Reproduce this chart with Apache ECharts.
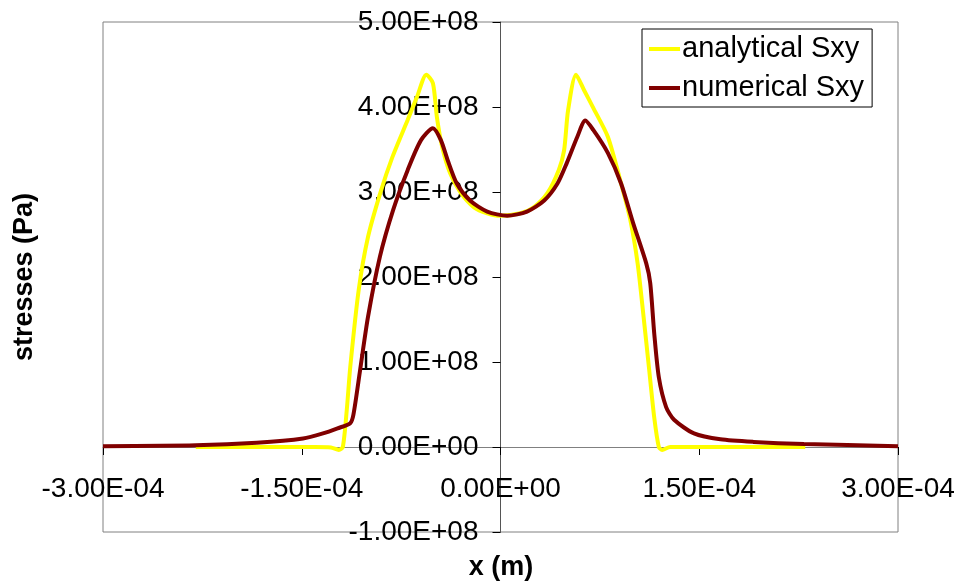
<!DOCTYPE html>
<html>
<head>
<meta charset="utf-8">
<script src="https://cdn.jsdelivr.net/npm/echarts@6/dist/echarts.min.js"></script>
<style>
  html, body { margin: 0; padding: 0; background: #fff; }
  #chart { width: 961px; height: 586px; }
</style>
</head>
<body>
<div id="chart"></div>
<script>
// x (m) / stress (Pa)
const analyticalX = [-2.30e-4, -1.80e-4, -1.40e-4, -1.28e-4, -1.22e-4, -1.19e-4, -1.16e-4, -1.134e-4, -1.07e-4, -1.00e-4,
  -0.907e-4, -0.816e-4, -0.70e-4, -0.63e-4, -0.56e-4, -0.51e-4, -0.48e-4, -0.44e-4, -0.38e-4, -0.30e-4,
  -0.20e-4, -0.10e-4, 0, 0.15e-4, 0.25e-4, 0.355e-4, 0.44e-4, 0.48e-4, 0.51e-4, 0.57e-4,
  0.63e-4, 0.70e-4, 0.81e-4, 0.91e-4, 0.98e-4, 1.035e-4, 1.08e-4, 1.12e-4, 1.16e-4, 1.195e-4,
  1.22e-4, 1.28e-4, 1.60e-4, 2.30e-4]
const analyticalY = [0, 0, 0, -0.005e8, -0.035e8, 0, 0.44e8, 0.94e8, 1.85e8, 2.47e8,
  2.99e8, 3.41e8, 3.85e8, 4.12e8, 4.38e8, 4.28e8, 3.88e8, 3.53e8, 3.22e8, 2.99e8,
  2.82e8, 2.75e8, 2.72e8, 2.75e8, 2.82e8, 2.99e8, 3.26e8, 3.49e8, 3.96e8, 4.38e8,
  4.20e8, 3.99e8, 3.65e8, 3.10e8, 2.67e8, 2.16e8, 1.53e8, 0.94e8, 0.35e8, 0,
  -0.035e8, 0, 0, 0]

const numericalX = [-3.0e-4, -2.3e-4, -1.84e-4, -1.49e-4, -1.34e-4, -1.23e-4, -1.134e-4, -1.11e-4, -1.06e-4, -1.00e-4,
  -0.91e-4, -0.81e-4, -0.70e-4, -0.60e-4, -0.51e-4, -0.45e-4, -0.40e-4, -0.33e-4, -0.23e-4, -0.10e-4,
  0.05e-4, 0.20e-4, 0.33e-4, 0.43e-4, 0.50e-4, 0.58e-4, 0.64e-4, 0.70e-4, 0.81e-4, 0.91e-4,
  1.00e-4, 1.10e-4, 1.13e-4, 1.16e-4, 1.195e-4, 1.25e-4, 1.31e-4, 1.46e-4, 1.66e-4, 1.91e-4,
  2.29e-4, 3.0e-4]
const numericalY = [0.01e8, 0.02e8, 0.05e8, 0.10e8, 0.16e8, 0.22e8, 0.28e8, 0.38e8, 0.90e8, 1.53e8,
  2.24e8, 2.79e8, 3.26e8, 3.61e8, 3.75e8, 3.61e8, 3.38e8, 3.10e8, 2.90e8, 2.77e8,
  2.72e8, 2.77e8, 2.90e8, 3.10e8, 3.34e8, 3.65e8, 3.84e8, 3.73e8, 3.46e8, 3.10e8,
  2.64e8, 2.16e8, 1.93e8, 1.34e8, 0.82e8, 0.47e8, 0.32e8, 0.16e8, 0.09e8, 0.06e8,
  0.035e8, 0.01e8]

const seriesNames = ['analytical Sxy', 'numerical Sxy']

// Excel style 0.00E+00
function sci(v) {
  const s = Number(v).toExponential(2)
  const parts = s.split('e')
  let exp = parseInt(parts[1], 10)
  const sign = exp < 0 ? '-' : '+'
  exp = Math.abs(exp)
  return parts[0] + 'E' + sign + (exp < 10 ? '0' + exp : exp)
}

const font = "'Liberation Sans', Arial, sans-serif"
const chart = echarts.init(document.getElementById('chart'))

// plot box in px, axes cross at x=0 / y=0
const gridL = 103, gridT = 22, gridW = 795, gridH = 510

const option = {
  animation: false,
  grid: {
    left: gridL, top: gridT, width: gridW, height: gridH,
    outerBoundsMode: 'none',
    containLabel: false,
    show: true, borderColor: '#808080', borderWidth: 1
  },
  legend: {
    data: seriesNames,
    orient: 'vertical',
    left: 642, top: 29,
    padding: [5, 8, 4, 7],
    itemGap: 9,
    itemWidth: 31, itemHeight: 4,
    icon: 'rect',
    borderColor: '#000', borderWidth: 1,
    backgroundColor: '#fff',
    textStyle: { fontFamily: font, fontSize: 29, color: '#000', lineHeight: 30, padding: [0, 0, 0, -3] }
  },
  xAxis: {
    type: 'value',
    min: -3e-4, max: 3e-4, interval: 1.5e-4,
    position: 'bottom',
    offset: -gridH * 1 / 6, // move up to y = 0
    axisLine: { onZero: false, lineStyle: { color: '#808080', width: 1 } },
    axisTick: { show: true, inside: false, length: 8, lineStyle: { color: '#000' } },
    axisLabel: {
      formatter: sci, fontFamily: font, fontSize: 28, color: '#000', margin: 28,
      showMinLabel: true, showMaxLabel: true
    },
    splitLine: { show: false }
  },
  yAxis: {
    type: 'value',
    min: -1e8, max: 5e8, interval: 1e8,
    position: 'left',
    offset: -gridW / 2, // move right to x = 0
    axisLine: { onZero: false, lineStyle: { color: '#555', width: 1 } },
    axisTick: { show: true, inside: false, length: 8, lineStyle: { color: '#000' } },
    axisLabel: {
      formatter: sci, fontFamily: font, fontSize: 28, color: '#000', margin: 22,
      showMinLabel: true, showMaxLabel: true
    },
    splitLine: { show: false }
  },
  graphic: [
    {
      type: 'text', x: 25, y: 277, rotation: Math.PI / 2,
      style: { text: 'stresses (Pa)', font: 'bold 27px ' + font, fill: '#000', align: 'center', verticalAlign: 'middle' }
    },
    {
      type: 'text', x: 501, y: 568,
      style: { text: 'x (m)', font: 'bold 27px ' + font, fill: '#000', align: 'center', verticalAlign: 'middle' }
    }
  ],
  series: [
    {
      name: seriesNames[0],
      type: 'line',
      showSymbol: false,
      smooth: 0.25,
      lineStyle: { color: '#FFFF00', width: 4 },
      itemStyle: { color: '#FFFF00' },
      data: analyticalX.map((x, i) => [x, analyticalY[i]])
    },
    {
      name: seriesNames[1],
      type: 'line',
      showSymbol: false,
      smooth: 0.25,
      lineStyle: { color: '#800000', width: 4 },
      itemStyle: { color: '#800000' },
      data: numericalX.map((x, i) => [x, numericalY[i]])
    }
  ]
}

chart.setOption(option)
</script>
</body>
</html>
